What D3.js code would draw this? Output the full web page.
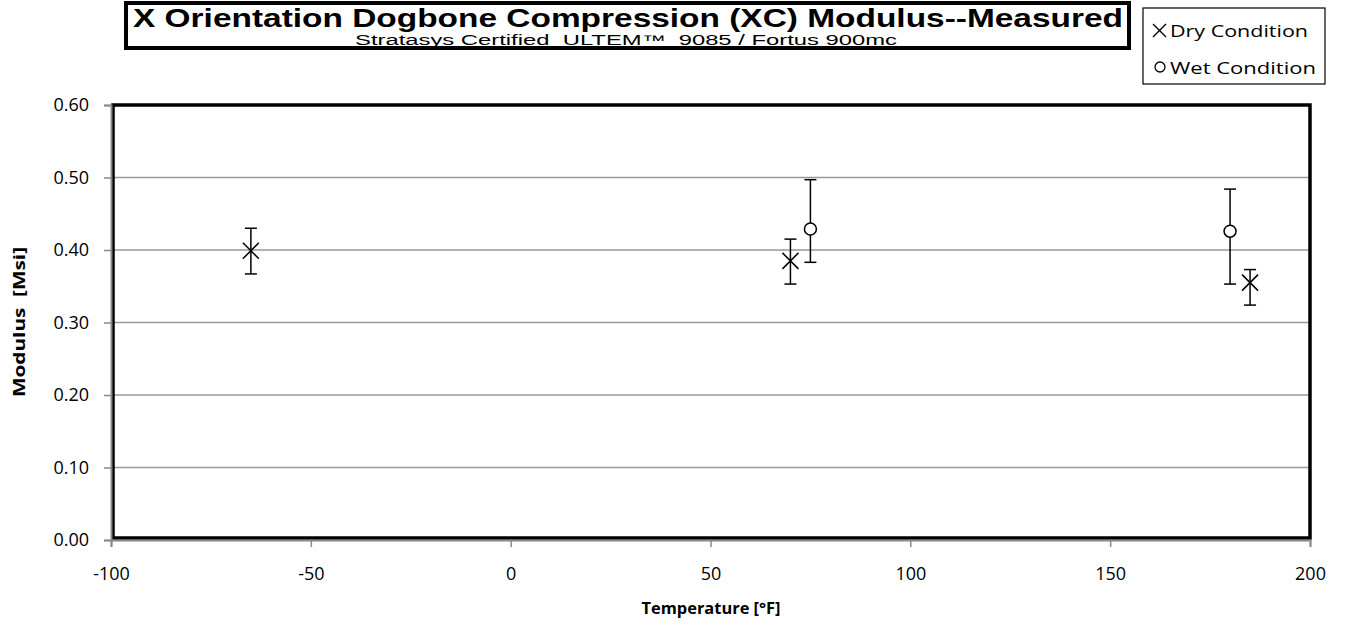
<!DOCTYPE html>
<html>
<head>
<meta charset="UTF-8">
<title>XC Modulus</title>
<script src="https://d3js.org/d3.v7.min.js"></script>
<style>
  body { margin: 0; background: #fff; }
  .tick text { font-family: "Open Sans", Lato, sans-serif; font-size: 18px; fill: #000; }
</style>
</head>
<body>
<script>
var dryTemp = [-65, 70, 185];
var dryMod = [0.399, 0.385, 0.355];
var dryLo = [0.367, 0.353, 0.324];
var dryHi = [0.430, 0.415, 0.373];

var wetTemp = [75, 180];
var wetMod = [0.429, 0.426];
var wetLo = [0.383, 0.353];
var wetHi = [0.497, 0.484];

var xTicks = [-100, -50, 0, 50, 100, 150, 200];
var yTicks = [0, 0.1, 0.2, 0.3, 0.4, 0.5, 0.6];

var W = 1351, H = 629;
var svg = d3.select("body").append("svg").attr("width", W).attr("height", H);

var x = d3.scaleLinear().domain([-100, 200]).range([111, 1310]);
var y = d3.scaleLinear().domain([0, 0.6]).range([540, 105]);

// gridlines
svg.append("g").selectAll("line").data(yTicks.slice(1, -1)).enter().append("line")
  .attr("x1", x(-100)).attr("x2", x(200))
  .attr("y1", function(d) { return y(d); }).attr("y2", function(d) { return y(d); })
  .attr("stroke", "#999").attr("stroke-width", 1.5);

// plot frame
svg.append("rect")
  .attr("x", x(-100) + 2).attr("y", y(0.6))
  .attr("width", x(200) - x(-100) - 2).attr("height", y(0) - y(0.6) - 2)
  .attr("fill", "none").attr("stroke", "#000").attr("stroke-width", 3.5);

// axes
var yAxis = svg.append("g").attr("transform", "translate(" + x(-100) + ",0)")
  .call(d3.axisLeft(y).tickValues(yTicks).tickFormat(d3.format(".2f")).tickSize(7).tickPadding(15));
var xAxis = svg.append("g").attr("transform", "translate(0," + y(0) + ")")
  .call(d3.axisBottom(x).tickValues(xTicks).tickFormat(function(d) { return String(d); })
    .tickSize(7).tickPadding(20));
[yAxis, xAxis].forEach(function(a) {
  a.select(".domain").attr("stroke", "#888").attr("stroke-width", 2);
  a.selectAll(".tick line").attr("stroke", "#888").attr("stroke-width", 1.5);
});

// error bars
function errBars(t, lo, hi) {
  var g = svg.append("g").attr("stroke", "#000").attr("stroke-width", 1.5);
  t.forEach(function(tv, i) {
    var cx = x(tv);
    g.append("line").attr("x1", cx).attr("x2", cx).attr("y1", y(lo[i])).attr("y2", y(hi[i]));
    g.append("line").attr("x1", cx - 6).attr("x2", cx + 6).attr("y1", y(lo[i])).attr("y2", y(lo[i]));
    g.append("line").attr("x1", cx - 6).attr("x2", cx + 6).attr("y1", y(hi[i])).attr("y2", y(hi[i]));
  });
}
errBars(dryTemp, dryLo, dryHi);
errBars(wetTemp, wetLo, wetHi);

// dry markers (x)
var crossPath = "M-8,-8L8,8M-8,8L8,-8";
svg.append("g").selectAll("path").data(dryTemp).enter().append("path")
  .attr("transform", function(d, i) { return "translate(" + x(d) + "," + y(dryMod[i]) + ")"; })
  .attr("d", crossPath).attr("stroke", "#000").attr("stroke-width", 1.5).attr("fill", "none");

// wet markers (o)
svg.append("g").selectAll("circle").data(wetTemp).enter().append("circle")
  .attr("cx", function(d) { return x(d); })
  .attr("cy", function(d, i) { return y(wetMod[i]); })
  .attr("r", 6).attr("fill", "#fff").attr("stroke", "#000").attr("stroke-width", 1.5);

// axis titles
svg.append("text").attr("transform", "translate(25,322) rotate(-90)")
  .attr("text-anchor", "middle").style("font-family", "'Open Sans', sans-serif")
  .style("font-weight", "bold").style("font-size", "16px").style("white-space", "pre")
  .attr("textLength", 150).attr("lengthAdjust", "spacingAndGlyphs")
  .text("Modulus  [Msi]");
svg.append("text").attr("x", 711).attr("y", 614)
  .attr("text-anchor", "middle").style("font-family", "'Open Sans', sans-serif")
  .style("font-weight", "bold").style("font-size", "16px")
  .attr("textLength", 139).attr("lengthAdjust", "spacingAndGlyphs")
  .text("Temperature [°F]");

// title box
svg.append("rect").attr("x", 126).attr("y", 3).attr("width", 1003).attr("height", 45)
  .attr("fill", "#fff").attr("stroke", "#000").attr("stroke-width", 4);
svg.append("text").attr("x", 628).attr("y", 27).attr("text-anchor", "middle")
  .style("font-family", "'Liberation Sans', Arial, sans-serif").style("font-weight", "bold")
  .style("font-size", "25px")
  .attr("textLength", 990).attr("lengthAdjust", "spacingAndGlyphs")
  .text("X Orientation Dogbone Compression (XC) Modulus--Measured");
svg.append("text").attr("x", 626).attr("y", 45).attr("text-anchor", "middle")
  .style("font-family", "'Liberation Sans', Arial, sans-serif").style("font-size", "14px")
  .style("white-space", "pre")
  .attr("textLength", 542).attr("lengthAdjust", "spacingAndGlyphs")
  .text("Stratasys Certified  ULTEM\u2122  9085 / Fortus 900mc");

// legend
var lg = svg.append("g");
lg.append("rect").attr("x", 1143).attr("y", 8).attr("width", 182).attr("height", 76)
  .attr("fill", "#fff").attr("stroke", "#000").attr("stroke-width", 1.2);
lg.append("path").attr("d", "M1153,24L1166,37M1153,37L1166,24").attr("stroke", "#000").attr("stroke-width", 1.4);
lg.append("circle").attr("cx", 1160).attr("cy", 67).attr("r", 5).attr("fill", "none")
  .attr("stroke", "#000").attr("stroke-width", 1.3);
lg.selectAll("text").data(["Dry Condition", "Wet Condition"]).enter().append("text")
  .attr("x", 1170).attr("y", function(d, i) { return 37 + i * 37; })
  .style("font-family", "'Open Sans', sans-serif").style("font-size", "17px")
  .attr("textLength", function(d, i) { return i ? 146 : 138; }).attr("lengthAdjust", "spacingAndGlyphs")
  .text(function(d) { return d; });
</script>
</body>
</html>
